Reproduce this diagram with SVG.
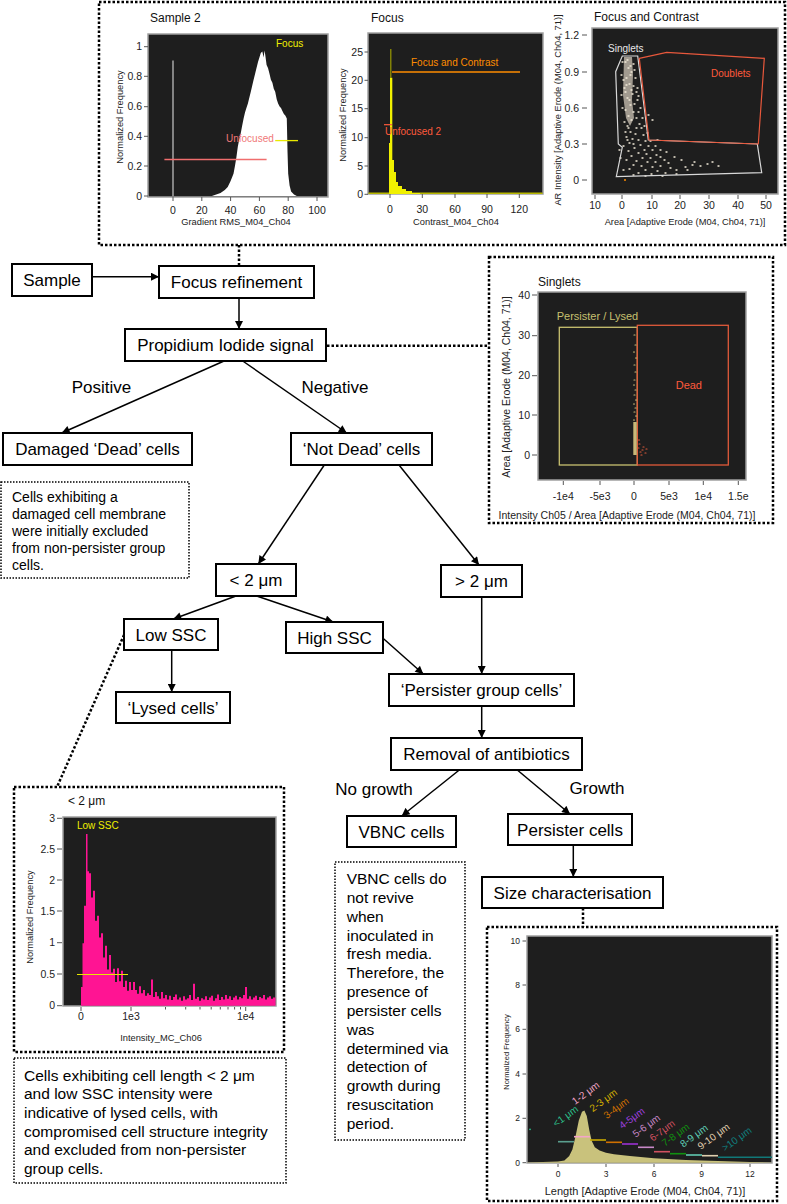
<svg xmlns="http://www.w3.org/2000/svg" width="787" height="1204" viewBox="0 0 787 1204">
<style>
.box{fill:#fff;stroke:#000;stroke-width:2}
.lbl{font-family:"Liberation Sans",Arial,sans-serif;font-size:17px;fill:#000;text-anchor:middle}
.note{font-family:"Liberation Sans",Arial,sans-serif;fill:#000}
.dotbig{fill:none;stroke:#000;stroke-width:2.5;stroke-dasharray:2.5 2}
.dotsm{fill:none;stroke:#000;stroke-width:1.5;stroke-dasharray:1.5 1.5}
.conn{stroke:#000;stroke-width:1.5;fill:none;marker-end:url(#ah)}
.frame{fill:#1e1e1e;stroke:#a0a0a0;stroke-width:1.5}
.tk{font-family:"Liberation Sans",Arial,sans-serif;font-size:10.5px;fill:#222}
.e{text-anchor:end}
.m{text-anchor:middle}
.tm{stroke:#555;stroke-width:1}
.ttl{font-family:"Liberation Sans",Arial,sans-serif;font-size:12px;fill:#111}
.axt{font-family:"Liberation Sans",Arial,sans-serif;font-size:9.3px;fill:#222;text-anchor:middle}
.ann{font-family:"Liberation Sans",Arial,sans-serif;font-size:10px}
.gl{font-family:"Liberation Sans",Arial,sans-serif;font-size:10px}
</style>
<defs>
<marker id="ah" viewBox="0 0 10 10" refX="10" refY="5" markerWidth="9" markerHeight="8" markerUnits="userSpaceOnUse" orient="auto"><path d="M0,0 L10,5 L0,10 z" fill="#000"/></marker>
</defs>

<!-- Top panel with three plots -->
<g id="top-panel">
<rect class="dotbig" x="99" y="2" width="686" height="243"/>
<!-- Plot 1 -->
<g id="plot-sample2">
<text class="ttl" x="150" y="22">Sample 2</text>
<rect class="frame" x="148" y="34" width="180" height="163"/>
<path d="M211.9,196 L216.2,194.5 L220.5,193 L224.8,190 L227.7,187.1 L230.6,181.1 L233.5,173.7 L234.9,166.2 L236.4,157.3 L237.8,146.8 L239.2,139.4 L240.7,133.4 L242.1,126 L243.6,118.5 L245,112.6 L246.4,108.1 L247.9,103.6 L249.3,97.7 L250.8,91.7 L252.2,85.7 L253.6,79.8 L255.1,73.8 L256.5,67.9 L258,61.9 L259.4,57.4 L260.8,53 L262.3,51.5 L263.7,57.4 L264.4,50.5 L265.2,54.5 L266.6,64.9 L268,67.9 L269.5,73.8 L270.9,79.8 L272.4,82.8 L273.8,88.7 L275.2,91.7 L276.7,99.2 L278.1,103.6 L279.6,106.6 L281,108.1 L282.4,111.1 L283.9,114.1 L285.3,115.5 L286.8,118.5 L287.5,151.3 L288.2,173.7 L289.6,185.6 L291.1,191.5 L294,194.5 L296.8,196 Z" fill="#fff"/>
<line x1="173" y1="60.4" x2="173" y2="196" stroke="#c8c8c8" stroke-width="1.2"/>
<line x1="164.4" y1="159.5" x2="266.6" y2="159.5" stroke="#f06e6e" stroke-width="1.3"/>
<line x1="275.2" y1="140.6" x2="298" y2="140.6" stroke="#e8e800" stroke-width="1.3"/>
<text class="ann" x="226" y="141.5" fill="#f07878">Unfocused</text>
<text class="ann" x="276" y="47" fill="#f0f000">Focus</text>
<g class="tk e">
<text x="142" y="50.2">1</text><text x="142" y="79.8">0.8</text><text x="142" y="110.2">0.6</text><text x="142" y="139.8">0.4</text><text x="142" y="169.5">0.2</text><text x="142" y="199.5">0</text>
</g>
<path class="tm" d="M144,46.7H148M144,76.3H148M144,106.7H148M144,136.3H148M144,166H148M144,196H148M173,197V201M201.8,197V201M230.6,197V201M259.4,197V201M288.2,197V201M317,197V201"/>
<g class="tk m">
<text x="173" y="213.5">0</text><text x="201.8" y="213.5">20</text><text x="230.6" y="213.5">40</text><text x="259.4" y="213.5">60</text><text x="288.2" y="213.5">80</text><text x="317" y="213.5">100</text>
</g>
<text class="axt" transform="translate(123,117) rotate(-90)">Normalized Frequency</text>
<text class="axt" x="236" y="225">Gradient RMS_M04_Ch04</text>
</g>
<!-- Plot 2 -->
<g id="plot-focus">
<text class="ttl" x="371" y="22">Focus</text>
<rect class="frame" x="368" y="33" width="175" height="161"/>
<line x1="368.5" y1="193.3" x2="542.5" y2="193.3" stroke="#b8b800" stroke-width="1.5"/>
<path d="M389,194 V143 H390 V77.7 H392.3 V160 H394 V172 H396 V182 H398 V186 H402 V189 H406 V191 H412 V193 H420 V194 Z" fill="#f0f000"/>
<line x1="390.8" y1="49" x2="390.8" y2="78" stroke="#9a9a00" stroke-width="1.2"/>
<line x1="392" y1="72" x2="520" y2="72" stroke="#ff8c00" stroke-width="1.3"/>
<text class="ann" x="411" y="66" fill="#ff8c00">Focus and Contrast</text>
<line x1="384" y1="124.7" x2="392" y2="124.7" stroke="#ff5a3c" stroke-width="1.2"/>
<text class="ann" x="385" y="134.5" fill="#ff5a3c">Unfocused 2</text>
<g class="tk e">
<text x="363" y="55.5">25</text><text x="363" y="83.8">20</text><text x="363" y="112.2">15</text><text x="363" y="141.2">10</text><text x="363" y="169.5">5</text><text x="363" y="197.8">0</text>
</g>
<path class="tm" d="M364.5,52H368M364.5,80.3H368M364.5,108.7H368M364.5,137.7H368M364.5,166H368M364.5,194.3H368M390,194V198M422.3,194V198M455,194V198M487,194V198M519.3,194V198"/>
<g class="tk m">
<text x="390" y="213">0</text><text x="422.3" y="213">30</text><text x="455" y="213">60</text><text x="487" y="213">90</text><text x="519.3" y="213">120</text>
</g>
<text class="axt" transform="translate(346,115) rotate(-90)">Normalized Frequency</text>
<text class="axt" x="456" y="225">Contrast_M04_Ch04</text>
</g>
<!-- Plot 3 -->
<g id="plot-focus-contrast">
<text class="ttl" x="594" y="21">Focus and Contrast</text>
<rect class="frame" x="592" y="28" width="186" height="166"/>
<polygon points="624,57 632,57 633,75 632,100 634,118 630,126 626,118 623,95" fill="#d9cfbf" opacity="0.7"/>
<path d="M622,62h1M633,64h1M634,70h1M621,75h1M635,78h1M633,86h1M636,92h1M621,95h1M637,100h1M634,104h1M622,108h1M638,112h1M636,118h1M624,122h1M639,124h1M627,126h1M641,128h1M630,132h1M635,134h1M643,135h1M626,137h1M632,139h1M638,140h1M645,141h1M629,143h1M640,145h1M648,146h1M623,146h1M634,148h1M644,150h1M652,150h1M628,151h1M638,153h1M646,154h1M656,155h1M631,156h1M642,158h1M650,158h1M660,157h1M626,160h1M636,161h1M647,162h1M655,162h1M664,160h1M633,165h1M641,166h1M652,167h1M660,166h1M668,163h1M629,169h1M645,170h1M657,171h1M670,168h1M638,173h1M651,174h1M665,173h1M676,170h1M685,167h1M692,165h1M700,166h1M707,164h1M712,162h1M718,166h1M694,162h1M687,170h1M676,174h1M662,176h1M645,176h1M681,160h1M674,157h1M655,146h1M650,141h1M660,150h1M666,152h1M657,140h1M647,133h1M652,120h1M642,118h1M640,108h1M638,96h1M637,88h1M648,115h1M644,126h1M633,175h1M623,170h1M620,158h1M619,150h1M625,92h1M626,85h1M623,80h1M630,66h1M627,60h1M629,100h1M631,90h1M630,75h1M628,128h1M625,132h1M631,120h1M636,128h1M627,140h1M633,144h1M625,62h1M628,68h1M631,72h1M626,78h1M629,84h1M624,88h1M632,94h1M627,98h1M630,105h1M625,110h1M633,112h1M628,116h1" stroke="#f2ead9" stroke-width="1.4" stroke-linecap="round"/>
<circle cx="625" cy="180" r="1" fill="#ff8c00"/>
<polygon points="622.3,56 637.7,56 648.3,140 757.3,144 761.7,172.7 616.3,176.7 622.3,147.3 618.3,144 615.7,71.7" fill="none" stroke="#d8d8d8" stroke-width="1.2"/>
<polygon points="639.3,58.3 666.7,52.3 764.3,58.3 758.3,144 649,140" fill="none" stroke="#e8583c" stroke-width="1.2"/>
<text class="ann" x="608" y="52" fill="#e8e8e8">Singlets</text>
<text class="ann" x="711" y="77" fill="#ff5a3c">Doublets</text>
<g class="tk e">
<text x="579" y="38.5">1.2</text><text x="579" y="75.5">0.9</text><text x="579" y="111.5">0.6</text><text x="579" y="147.5">0.3</text><text x="579" y="183.5">0</text>
</g>
<path class="tm" d="M582,35H587M582,72H587M582,108H587M582,144H587M582,180H587M595,195V199M622,195V199M652,195V199M680,195V199M709,195V199M738,195V199M766,195V199"/>
<g class="tk m">
<text x="595" y="209">10</text><text x="622" y="209">0</text><text x="652" y="209">10</text><text x="680" y="209">20</text><text x="709" y="209">30</text><text x="738" y="209">40</text><text x="766" y="209">50</text>
</g>
<text class="axt" transform="translate(561,110) rotate(-90)">AR Intensity [Adaptive Erode (M04, Ch04, 71)]</text>
<text class="axt" x="685" y="225">Area [Adaptive Erode (M04, Ch04, 71)]</text>
</g>
</g>

<!-- Singlets panel -->
<g id="singlets-panel">
<rect class="dotbig" x="489" y="257" width="284" height="266"/>
<text class="ttl" x="538" y="286">Singlets</text>
<rect class="frame" x="538" y="292" width="208" height="188"/>
<rect x="559.3" y="327.3" width="78" height="137.7" fill="none" stroke="#c8c070" stroke-width="1.3"/>
<rect x="637.3" y="325.3" width="91" height="139.7" fill="none" stroke="#e05a3a" stroke-width="1.3"/>
<rect x="633.3" y="422" width="3.4" height="33" fill="#c8b878"/>
<path d="M634,335h1M635,345h1M633.5,352h1M635.5,358h1M634,365h1M635,372h1M634,380h1M633.5,385h1M635,390h1M634,395h1M635.5,400h1M633.5,404h1M635,408h1M634,412h1M635.5,416h1M633.5,420h1" stroke="#c8b878" stroke-width="1.2" stroke-linecap="round"/>
<path d="M638,448h1M640,452h1M642,450h1M645,453h1M639,444h1M643,447h1M641,455h1M646,449h1M638.5,440h1" stroke="#e05a3a" stroke-width="1.2" stroke-linecap="round"/>
<text x="556.7" y="320" font-family="Liberation Sans, Arial, sans-serif" font-size="11" fill="#c8c070">Persister / Lysed</text>
<text x="675.7" y="389" font-family="Liberation Sans, Arial, sans-serif" font-size="11" fill="#ff5a3c">Dead</text>
<g class="tk e">
<text x="530" y="298.5">40</text><text x="530" y="339.2">30</text><text x="530" y="379.2">20</text><text x="530" y="418.5">10</text><text x="530" y="458.5">0</text>
</g>
<path class="tm" d="M532,295H537M532,335.7H537M532,375.7H537M532,415H537M532,455H537M563.3,481V485M600,481V485M634,481V485M669,481V485M703.3,481V485M738.3,481V485"/>
<g class="tk m">
<text x="563.3" y="500">-1e4</text><text x="600" y="500">-5e3</text><text x="634" y="500">0</text><text x="669" y="500">5e3</text><text x="703.3" y="500">1e4</text><text x="738.3" y="500">1.5e</text>
</g>
<text class="axt" transform="translate(510,387) rotate(-90)" style="font-size:10.5px">Area [Adaptive Erode (M04, Ch04, 71)]</text>
<text class="axt" x="627" y="519" style="font-size:10.5px">Intensity Ch05 / Area [Adaptive Erode (M04, Ch04, 71)]</text>
</g>

<!-- Low SSC panel -->
<g id="lowssc-panel">
<rect class="dotbig" x="14" y="787" width="270" height="265"/>
<text class="ttl" x="68" y="805">&lt; 2 μm</text>
<rect class="frame" x="63" y="817" width="213" height="189"/>
<path d="M81,1005.7 V987 H82.5 V943.2 H84 V905.7 H86 V833.9 H87.5 V871.3 H89 V873.2 H91 V897.6 H93 V890.7 H95 V920.7 H97 V915.7 H99 V937.6 H101 V933.2 H103 V957.6 H105 V945.7 H107 V969.5 H109 V955.1 H111 V972.6 H113 V968.8 H115 V982 H117 V968.2 H119 V981.3 H121 V970.7 H123 V987 H125 V980.7 H127 V990.7 H129 V982 H131 V990 H133 V982 H135 V990 H137 V993.8 H139 V986.3 H141 V993.2 H143 V990 H145 V995.7 H147 V993.2 H149 V995.1 H151 V979.5 H153 V997 H155 V992 H157 V996.3 H159 V998.8 H161 V992 H163 V998.2 H165 V995.1 H167 V999.5 H169 V995.7 H171 V1000 H173 V997 H175 V994.5 H177 V999.5 H179 V997.6 H181 V1000.7 H183 V996.3 H185 V999.5 H187 V998.2 H189 V995.1 H191 V1000 H193 V983.8 H195 V998.8 H197 V997 H199 V1000.7 H201 V998.2 H203 V999.5 H205 V996.3 H207 V1000 H209 V997.6 H211 V995.7 H213 V1000.7 H215 V998.2 H217 V994.5 H219 V1000 H221 V997 H223 V999.5 H225 V995.1 H227 V998.8 H229 V996.3 H231 V1000 H233 V997.6 H235 V995.7 H237 V999.5 H239 V997 H241 V998.2 H243 V995.1 H245 V987 H247 V998.8 H249 V996.3 H251 V999.5 H253 V997.6 H255 V995.7 H257 V1000 H259 V997 H261 V998.2 H263 V995.1 H265 V999.5 H267 V997.6 H269 V996.3 H271 V998.8 H273 V997.6 H275.5 V1005.7 Z" fill="#ff1493"/>
<line x1="77" y1="974.5" x2="128" y2="974.5" stroke="#e8e800" stroke-width="1.2"/>
<text class="ann" x="77" y="829" fill="#f0f000">Low SSC</text>
<g class="tk e">
<text x="55" y="821.8">3</text><text x="55" y="852.5">2.5</text><text x="55" y="883.5">2</text><text x="55" y="914.5">1.5</text><text x="55" y="946.2">1</text><text x="55" y="977.5">0.5</text><text x="55" y="1009.2">0</text>
</g>
<path class="tm" d="M57,818.3H62M57,849H62M57,880H62M57,911H62M57,942.7H62M57,974H62M57,1005.7H62M81,1007V1011M131,1007V1011M245.7,1007V1011M165.5,1007V1009.5M185.7,1007V1009.5M200,1007V1009.5M211.2,1007V1009.5M220.3,1007V1009.5M228,1007V1009.5M234.6,1007V1009.5M240.5,1007V1009.5"/>
<g class="tk m">
<text x="81" y="1020">0</text><text x="131" y="1020">1e3</text><text x="245.7" y="1020">1e4</text>
</g>
<text class="axt" transform="translate(33,917) rotate(-90)">Normalized Frequency</text>
<text class="axt" x="161" y="1041">Intensity_MC_Ch06</text>
</g>

<!-- Size panel -->
<g id="size-panel">
<rect class="dotbig" x="487" y="927" width="290" height="274"/>
<rect class="frame" x="527" y="936" width="245" height="227"/>
<path d="M527.5,1162.4 L558,1161.6 L564.4,1160.5 L569.2,1156 L572.4,1149.4 L575.6,1136.1 L578.8,1120.6 L582,1111.7 L584.4,1110.6 L586.8,1116.1 L589.2,1129.4 L591.6,1140.5 L594.8,1147.2 L599.6,1150.5 L606,1152.7 L614,1154.3 L630,1156.1 L654,1158.3 L686,1160 L718,1161.1 L750,1162 L771.3,1162.5 L771.3,1162.8 L527.5,1162.8 Z" fill="#c9c27c"/>
<g stroke-width="1.6">
<line x1="558" y1="1141.7" x2="574" y2="1141.7" stroke="#5a9e8e"/>
<line x1="574" y1="1136.7" x2="590" y2="1136.7" stroke="#f4a6c8"/>
<line x1="590" y1="1140" x2="606" y2="1140" stroke="#c8a800"/>
<line x1="606" y1="1142.3" x2="622" y2="1142.3" stroke="#d07000"/>
<line x1="622" y1="1144" x2="638" y2="1144" stroke="#9a30d0"/>
<line x1="638" y1="1147.3" x2="654" y2="1147.3" stroke="#c888c8"/>
<line x1="654" y1="1151.7" x2="670" y2="1151.7" stroke="#d05060"/>
<line x1="670" y1="1153.7" x2="686" y2="1153.7" stroke="#109010"/>
<line x1="686" y1="1155" x2="702" y2="1155" stroke="#60c8b0"/>
<line x1="702" y1="1155.7" x2="718" y2="1155.7" stroke="#e0d0b0"/>
<line x1="718" y1="1157.3" x2="772" y2="1157.3" stroke="#107878"/>
</g>
<circle cx="530" cy="1129.3" r="0.9" fill="#2cc08c"/>
<text class="gl" transform="translate(556,1127.3) rotate(-36)" fill="#2cc08c">&lt;1 μm</text>
<text class="gl" transform="translate(575,1105) rotate(-36)" fill="#f4a6c8">1-2 μm</text>
<text class="gl" transform="translate(592.7,1112.3) rotate(-36)" fill="#d4b000">2-3 μm</text>
<text class="gl" transform="translate(606.7,1119.3) rotate(-36)" fill="#d07000">3-4μm</text>
<text class="gl" transform="translate(622.3,1129.3) rotate(-36)" fill="#a040e0">4-5μm</text>
<text class="gl" transform="translate(635.7,1137.7) rotate(-36)" fill="#c888c8">5-6 μm</text>
<text class="gl" transform="translate(652.7,1141.7) rotate(-36)" fill="#d05060">6-7μm</text>
<text class="gl" transform="translate(665,1146.7) rotate(-36)" fill="#109010">7-8 μm</text>
<text class="gl" transform="translate(683.3,1147.7) rotate(-36)" fill="#60d0b8">8-9 μm</text>
<text class="gl" transform="translate(700.7,1150) rotate(-36)" fill="#e0d0b0">9-10 μm</text>
<text class="gl" transform="translate(725,1151.7) rotate(-36)" fill="#108080">&gt;10 μm</text>
<g class="tk e" style="font-size:8.5px">
<text x="520" y="944">10</text><text x="520" y="988">8</text><text x="520" y="1032.3">6</text><text x="520" y="1077">4</text><text x="520" y="1121.3">2</text><text x="520" y="1165.7">0</text>
</g>
<path class="tm" d="M522.5,941H526M522.5,985H526M522.5,1029.3H526M522.5,1074H526M522.5,1118.3H526M522.5,1162.7H526M558,1164V1167M606,1164V1167M654,1164V1167M701.7,1164V1167M750,1164V1167"/>
<g class="tk m" style="font-size:8.5px">
<text x="558" y="1177">0</text><text x="606" y="1177">3</text><text x="654" y="1177">6</text><text x="701.7" y="1177">9</text><text x="750" y="1177">12</text>
</g>
<text class="axt" transform="translate(509,1052) rotate(-90)" style="font-size:7.5px">Normalized Frequency</text>
<text class="axt" x="645" y="1195" style="font-size:11px">Length [Adaptive Erode (M04, Ch04, 71)]</text>
</g>

<!-- Connectors -->
<g id="connectors">
<path class="conn" d="M92,276.7 H159"/>
<path class="conn" d="M239,298 V329"/>
<path class="conn" d="M224,361 L61.7,433"/>
<path class="conn" d="M242.7,361 L346.7,433"/>
<path class="conn" d="M324.3,465 L258.3,564"/>
<path class="conn" d="M399,465 L479,565"/>
<path class="conn" d="M236,596 L173.3,619"/>
<path class="conn" d="M256.7,596 L333.3,622"/>
<path class="conn" d="M171.7,650 V692"/>
<path class="conn" d="M383,638.3 L423.3,674"/>
<path class="conn" d="M481.7,597 V674"/>
<path class="conn" d="M481.7,706 V738"/>
<path class="conn" d="M459.3,770 L401.7,816"/>
<path class="conn" d="M517.3,770 L570,814"/>
<path class="conn" d="M573.3,845 V877"/>
<path class="dotbig" d="M239,245 V266"/>
<path class="dotbig" d="M327,345.7 H489"/>
<path class="dotbig" d="M124,635 L57,787"/>
<path class="dotbig" d="M583,908 V927"/>
<text class="lbl" x="101.5" y="393">Positive</text>
<text class="lbl" x="335" y="393">Negative</text>
<text class="lbl" x="374" y="795">No growth</text>
<text class="lbl" x="597" y="794">Growth</text>
</g>

<!-- Nodes -->
<g id="n-sample"><rect class="box" x="12" y="264" width="80" height="32"/><text class="lbl" x="52" y="286">Sample</text></g>
<g id="n-focus"><rect class="box" x="159" y="266" width="155" height="32"/><text class="lbl" x="236.5" y="288">Focus refinement</text></g>
<g id="n-pi"><rect class="box" x="125" y="329" width="201" height="32"/><text class="lbl" x="225.5" y="351">Propidium Iodide signal</text></g>
<g id="n-dead"><rect class="box" x="3" y="433" width="189" height="32"/><text class="lbl" x="97.5" y="455">Damaged ‘Dead’ cells</text></g>
<g id="n-notdead"><rect class="box" x="291" y="433" width="141" height="32"/><text class="lbl" x="361.5" y="455">‘Not Dead’ cells</text></g>
<g id="n-lt2"><rect class="box" x="216" y="564" width="80" height="32"/><text class="lbl" x="256" y="586">&lt; 2 μm</text></g>
<g id="n-gt2"><rect class="box" x="441" y="565" width="81" height="32"/><text class="lbl" x="481.5" y="587">&gt; 2 μm</text></g>
<g id="n-lowssc"><rect class="box" x="124" y="619" width="94" height="31"/><text class="lbl" x="171" y="640.5">Low SSC</text></g>
<g id="n-highssc"><rect class="box" x="286" y="622" width="97" height="31"/><text class="lbl" x="334.5" y="643.5">High SSC</text></g>
<g id="n-lysed"><rect class="box" x="116" y="692" width="114" height="31"/><text class="lbl" x="173" y="713.5">‘Lysed cells’</text></g>
<g id="n-pgroup"><rect class="box" x="389" y="674" width="185" height="32"/><text class="lbl" x="481.5" y="696">‘Persister group cells’</text></g>
<g id="n-removal"><rect class="box" x="391" y="738" width="191" height="32"/><text class="lbl" x="486.5" y="760">Removal of antibiotics</text></g>
<g id="n-vbnc"><rect class="box" x="347" y="816" width="109" height="31"/><text class="lbl" x="401.5" y="837.5">VBNC cells</text></g>
<g id="n-persister"><rect class="box" x="508" y="814" width="124" height="31"/><text class="lbl" x="570" y="835.5">Persister cells</text></g>
<g id="n-size"><rect class="box" x="482" y="877" width="181" height="31"/><text class="lbl" x="572.5" y="898.5">Size characterisation</text></g>

<!-- Notes -->
<g id="note-dead">
<rect class="dotsm" x="1" y="482" width="188" height="96"/>
<g class="note" font-size="14">
<text x="12" y="502">Cells exhibiting a</text>
<text x="12" y="519">damaged cell membrane</text>
<text x="12" y="536">were initially excluded</text>
<text x="12" y="553">from non-persister group</text>
<text x="12" y="570">cells.</text>
</g>
</g>
<g id="note-vbnc">
<rect class="dotsm" x="335" y="862" width="130" height="278"/>
<g class="note" font-size="15.5">
<text x="346.7" y="884">VBNC cells do</text>
<text x="346.7" y="902.8">not revive</text>
<text x="346.7" y="921.7">when</text>
<text x="346.7" y="940.5">inoculated in</text>
<text x="346.7" y="959.3">fresh media.</text>
<text x="346.7" y="978.2">Therefore, the</text>
<text x="346.7" y="997">presence of</text>
<text x="346.7" y="1015.8">persister cells</text>
<text x="346.7" y="1034.7">was</text>
<text x="346.7" y="1053.5">determined via</text>
<text x="346.7" y="1072.3">detection of</text>
<text x="346.7" y="1091.2">growth during</text>
<text x="346.7" y="1110">resuscitation</text>
<text x="346.7" y="1128.8">period.</text>
</g>
</g>
<g id="note-lysed">
<rect class="dotsm" x="14" y="1058" width="272" height="125"/>
<g class="note" font-size="15.5">
<text x="24" y="1080.5">Cells exhibiting cell length &lt; 2 μm</text>
<text x="24" y="1099.2">and low SSC intensity were</text>
<text x="24" y="1117.9">indicative of lysed cells, with</text>
<text x="24" y="1136.6">compromised cell structure integrity</text>
<text x="24" y="1155.3">and excluded from non-persister</text>
<text x="24" y="1174">group cells.</text>
</g>
</g>
</svg>
